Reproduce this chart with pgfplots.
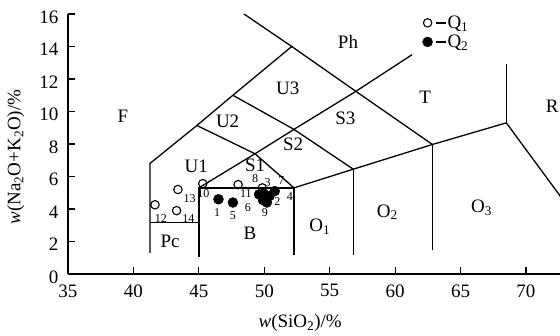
\documentclass[border=0pt]{standalone}
\usepackage{pgfplots}
\pgfplotsset{compat=1.18}
\usepackage{fontspec}
\setmainfont{Liberation Serif}
\newcommand{\bigf}{\fontsize{19}{21}\selectfont}
\newcommand{\smf}{\fontsize{12}{13}\selectfont}
\tikzset{fl/.style={font=\bigf, inner sep=0.5pt}, nl/.style={font=\smf, inner sep=0.5pt}}
\pgfplotsset{
  dashleg/.style={legend image code/.code={\draw[##1] plot coordinates {(0pt,0pt)}; \draw[line width=1.8pt, black] (8pt,0pt) -- (18pt,0pt);}},
  bnd/.style={black, line width=1.3pt, mark=none, forget plot},
}
\begin{document}
\begin{tikzpicture}
\begin{axis}[
  width=492pt, height=260pt, scale only axis,
  xmin=35, xmax=72.6, ymin=0, ymax=16,
  axis lines=left, axis line style={line width=1.7pt, -},
  xtick={35,40,...,70}, ytick={0,2,...,16},
  tick align=inside, major tick length=7pt,
  tick style={line width=1.2pt, black},
  ticklabel style={font=\bigf},
  xticklabel style={yshift=-7pt},
  yticklabel style={xshift=-6pt, yshift=-3pt},
  /pgf/number format/assume math mode=true,
  xlabel={\textit{w}(SiO\textsubscript{2})/\%},
  ylabel={\textit{w}(Na\textsubscript{2}O+K\textsubscript{2}O)/\%},
  label style={font=\bigf},
  xlabel style={at={(axis description cs:0.472,0)}, anchor=north, inner sep=0pt, yshift=-40pt},
  ylabel style={at={(axis description cs:-0.088,0.45)}, anchor=south, inner sep=0pt},
  legend style={at={(axis cs:62.1,15.95)}, anchor=north west, draw=none, fill=none,
    inner sep=0pt, outer sep=0pt, row sep=3pt, nodes={inner sep=1pt}, font=\bigf},
  legend cell align=left, reverse legend,
]
% boundaries
\addplot[bnd] coordinates {(41.26,1.3) (41.26,6.8) (44.85,9.14) (47.6,11.0) (52.1,14.0) (48.45,16.0)};
\addplot[bnd] coordinates {(41.26,3.15) (45,3.15)};
\addplot[bnd] coordinates {(45,1.05) (45,5.3) (52.27,5.3) (52.27,1.17)};
\addplot[bnd] coordinates {(45,5.3) (49.29,7.4) (52.27,5.3)};
\addplot[bnd] coordinates {(44.85,9.14) (49.29,7.4) (52.27,8.9) (57.0,11.24) (61.3,13.5)};
\addplot[bnd] coordinates {(47.6,11.0) (52.27,8.9) (56.8,6.45)};
\addplot[bnd] coordinates {(52.1,14.0) (57.0,11.24) (62.85,7.97)};
\addplot[bnd] coordinates {(52.27,5.3) (56.8,6.45) (62.85,7.97) (68.5,9.3) (77,0)};
\addplot[bnd] coordinates {(56.8,6.45) (56.8,1.17)};
\addplot[bnd] coordinates {(62.85,7.97) (62.85,1.5)};
\addplot[bnd] coordinates {(68.5,9.3) (68.5,12.9)};
% field labels
\node[fl] at (axis cs:56.4,14.3) {Ph};
\node[fl] at (axis cs:62.3,10.9) {T};
\node[fl] at (axis cs:72.0,10.3) {R};
\node[fl] at (axis cs:66.6,4.1) {O\textsubscript{3}};
\node[fl] at (axis cs:59.4,3.8) {O\textsubscript{2}};
\node[fl] at (axis cs:54.25,2.9) {O\textsubscript{1}};
\node[fl] at (axis cs:48.9,2.5) {B};
\node[fl] at (axis cs:42.8,2.0) {Pc};
\node[fl] at (axis cs:44.8,6.6) {U1};
\node[fl] at (axis cs:49.3,6.7) {S1};
\node[fl] at (axis cs:52.2,8.0) {S2};
\node[fl] at (axis cs:56.2,9.6) {S3};
\node[fl] at (axis cs:47.2,9.4) {U2};
\node[fl] at (axis cs:51.8,11.4) {U3};
\node[fl] at (axis cs:39.2,9.7) {F};
% data
\addplot[only marks, mark=*, mark size=5pt, mark options={fill=black, draw=black}, dashleg]
  coordinates {(46.5,4.6) (47.6,4.4) (49.6,4.9) (49.9,4.55) (50.2,4.4) (50.4,4.8) (50.8,5.1) (49.95,4.95)};
\addlegendentry{Q\textsubscript{2}}
\addplot[only marks, mark=o, mark size=4.2pt, mark options={fill=white, draw=black, line width=1.1pt}, dashleg]
  coordinates {(41.65,4.26) (43.3,3.9) (43.4,5.2) (45.3,5.56) (48.0,5.5) (49.85,5.3)};
\addlegendentry{Q\textsubscript{1}}
% sample numbers
\node[nl] at (axis cs:46.4,3.8) {1};
\node[nl] at (axis cs:47.6,3.6) {5};
\node[nl] at (axis cs:48.75,4.1) {6};
\node[nl] at (axis cs:45.35,4.95) {10};
\node[nl] at (axis cs:48.6,4.95) {11};
\node[nl] at (axis cs:49.3,5.85) {8};
\node[nl] at (axis cs:50.25,5.6) {3};
\node[nl] at (axis cs:51.3,5.75) {7};
\node[nl] at (axis cs:51.0,4.45) {2};
\node[nl] at (axis cs:51.95,4.75) {4};
\node[nl] at (axis cs:50.05,3.75) {9};
\node[nl] at (axis cs:42.1,3.4) {12};
\node[nl] at (axis cs:44.3,4.65) {13};
\node[nl] at (axis cs:44.2,3.4) {14};
\coordinate (O) at (rel axis cs:0,0);
\end{axis}
\pgfresetboundingbox
\path[use as bounding box] ([shift={(-68pt,-61pt)}]O) rectangle ([shift={(492pt,274pt)}]O);
\end{tikzpicture}
\end{document}
